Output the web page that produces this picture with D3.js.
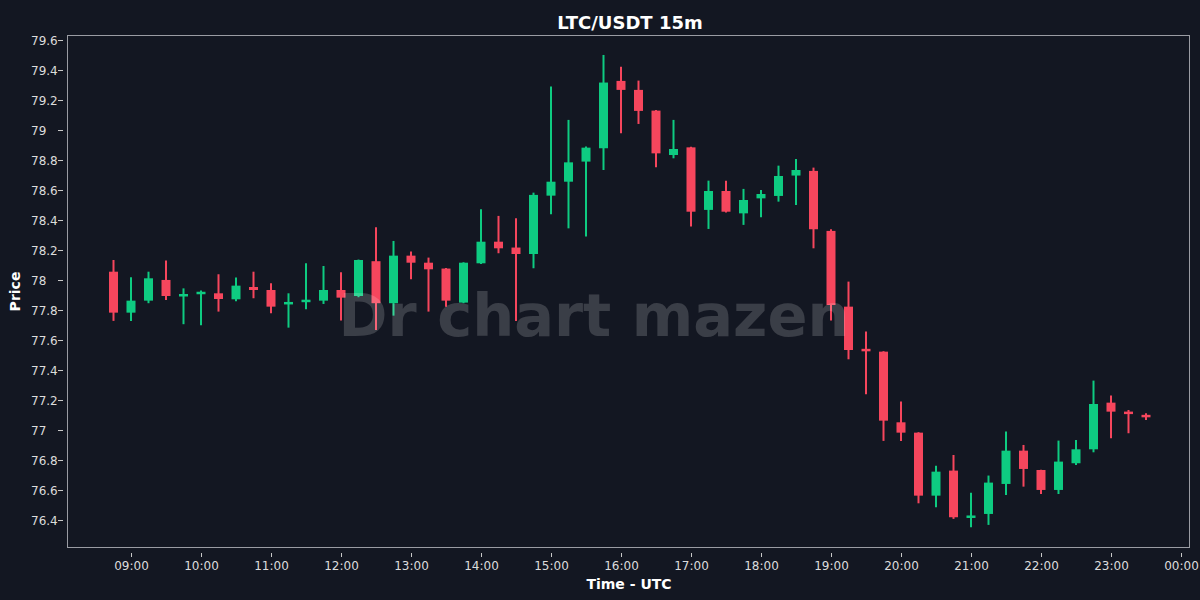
<!DOCTYPE html>
<html><head><meta charset="utf-8">
<script src="https://cdn.jsdelivr.net/npm/d3@7"></script>
<style>html,body{margin:0;padding:0;background:#131722}svg{display:block}</style>
</head><body><svg id="c" width="1200" height="600"></svg>
<script>
const times=["08:45","09:00","09:15","09:30","09:45","10:00","10:15","10:30","10:45","11:00","11:15","11:30","11:45","12:00","12:15","12:30","12:45","13:00","13:15","13:30","13:45","14:00","14:15","14:30","14:45","15:00","15:15","15:30","15:45","16:00","16:15","16:30","16:45","17:00","17:15","17:30","17:45","18:00","18:15","18:30","18:45","19:00","19:15","19:30","19:45","20:00","20:15","20:30","20:45","21:00","21:15","21:30","21:45","22:00","22:15","22:30","22:45","23:00","23:15","23:30"];
const open=[78.055,77.782,77.862,78.000,77.896,77.911,77.911,77.871,77.953,77.933,77.842,77.858,77.862,77.933,77.893,78.125,77.845,78.162,78.115,78.076,77.849,78.111,78.255,78.216,78.173,78.562,78.655,78.789,78.878,79.327,79.267,79.129,78.833,78.884,78.467,78.593,78.444,78.544,78.560,78.696,78.727,78.327,77.822,77.535,77.522,77.051,76.982,76.562,76.729,76.418,76.440,76.640,76.862,76.733,76.600,76.778,76.871,77.182,77.120,77.100];
const high=[78.133,78.018,78.055,78.129,77.944,77.929,78.038,78.016,78.055,77.978,77.911,78.111,78.093,78.051,78.136,78.351,78.260,78.189,78.149,78.080,78.118,78.471,78.427,78.411,78.582,79.289,79.067,78.889,79.500,79.422,79.329,79.133,79.067,78.888,78.662,78.662,78.607,78.600,78.762,78.807,78.749,78.338,77.989,77.656,77.525,77.189,76.985,76.762,76.833,76.582,76.696,76.989,76.900,76.735,76.929,76.933,77.329,77.229,77.133,77.111];
const low=[77.727,77.727,77.845,77.867,77.705,77.698,77.789,77.858,77.878,77.778,77.682,77.804,77.840,77.729,77.885,77.667,77.762,78.004,77.789,77.822,77.845,78.107,78.178,77.727,78.078,78.438,78.344,78.289,78.733,78.978,79.040,78.751,78.811,78.356,78.340,78.449,78.367,78.418,78.522,78.500,78.211,77.729,77.471,77.238,76.927,76.927,76.511,76.484,76.407,76.351,76.367,76.567,76.622,76.573,76.573,76.767,76.851,76.944,76.978,77.067];
const close=[77.782,77.862,78.011,77.893,77.900,77.915,77.873,77.962,77.933,77.822,77.848,77.862,77.933,77.882,78.133,77.845,78.162,78.115,78.071,77.862,78.115,78.255,78.211,78.173,78.567,78.655,78.784,78.882,79.316,79.267,79.127,78.844,78.873,78.455,78.593,78.455,78.533,78.573,78.693,78.733,78.338,77.833,77.533,77.530,77.062,76.982,76.562,76.722,76.418,76.425,76.649,76.862,76.740,76.600,76.789,76.871,77.173,77.122,77.108,77.085];
const xTickLabels=["09:00","10:00","11:00","12:00","13:00","14:00","15:00","16:00","17:00","18:00","19:00","20:00","21:00","22:00","23:00","00:00"];

const W=1200,H=600,L=67,R=1190,T=35,B=548;
const UP="#0ecb81",DOWN="#f6465d",BG="#131722";
const FONT="DejaVu Sans, Verdana, sans-serif";
const svg=d3.select("#c");
svg.append("rect").attr("width",W).attr("height",H).attr("fill",BG);

const parse=d3.utcParse("%Y-%m-%d %H:%M");
const toDate=t=>parse(((+t.slice(0,2))<8?"2024-01-02 ":"2024-01-01 ")+t);
const dates=times.map(toDate);
const tickDates=xTickLabels.map(toDate);

// time scale: 09:00 -> 131px, 00:00 -> 1181px
const x=d3.scaleUtc().domain([parse("2024-01-01 09:00"),parse("2024-01-02 00:00")]).range([131,1181]);
const y=d3.scaleLinear().domain([76.213,79.633]).range([B,T]);

// plot frame
svg.append("rect").attr("x",L+0.5).attr("y",T+0.5).attr("width",R-L-1).attr("height",B-T-1)
  .attr("fill","none").attr("stroke","#9a9ca3").attr("stroke-width",1);

// y axis
const yTicks=y.ticks(16);
const yg=svg.append("g");
yTicks.forEach(v=>{
  const yy=Math.round(y(v))+0.5;
  yg.append("line").attr("x1",58).attr("x2",63).attr("y1",yy).attr("y2",yy).attr("stroke","#c8c8c8").attr("stroke-width",1);
  yg.append("text").attr("x",31).attr("y",yy+4).attr("fill","#dcdcdc").attr("font-family",FONT).attr("font-size",12)
    .attr("text-anchor","start").text(d3.format("~f")(+v.toFixed(1)));
});

// x axis
const xAxis=d3.axisBottom(x).tickValues(tickDates).tickSize(4).tickPadding(4)
  .tickFormat((d,i)=>xTickLabels[i]);
const xg=svg.append("g").attr("transform",`translate(0,${B+5})`).call(xAxis);
xg.select(".domain").remove();
xg.selectAll(".tick line").attr("stroke","#c8c8c8");
xg.selectAll(".tick text").attr("fill","#dcdcdc").attr("font-family",FONT).attr("font-size",12);

// candles
const bw=9;
const cg=svg.append("g");
dates.forEach((d,i)=>{
  const o=open[i],c=close[i],h=high[i],l=low[i];
  const col=c>=o?UP:DOWN;
  const cx=x(d);
  cg.append("line").attr("x1",cx).attr("x2",cx).attr("y1",y(h)).attr("y2",y(l)).attr("stroke",col).attr("stroke-width",2);
  const top=y(Math.max(o,c)),bot=y(Math.min(o,c));
  const hh=Math.max(2.5,bot-top);
  const mid=(top+bot)/2;
  cg.append("rect").attr("x",cx-bw/2).attr("y",hh>bot-top?mid-hh/2:top).attr("width",bw).attr("height",hh).attr("fill",col);
});

// watermark
svg.append("text").attr("x",594).attr("y",336).attr("text-anchor","middle")
  .attr("font-family",FONT).attr("font-weight","bold").attr("font-size",59)
  .attr("fill","rgba(255,255,255,0.17)").text("Dr chart mazen");

// titles
svg.append("text").attr("x",630).attr("y",29).attr("text-anchor","middle").attr("fill","#ffffff")
  .attr("font-family",FONT).attr("font-weight","bold").attr("font-size",18).text("LTC/USDT 15m");
svg.append("text").attr("x",629).attr("y",589).attr("text-anchor","middle").attr("fill","#ffffff")
  .attr("font-family",FONT).attr("font-weight","bold").attr("font-size",14).text("Time - UTC");
svg.append("text").attr("transform",`translate(20,${(T+B)/2}) rotate(-90)`).attr("text-anchor","middle").attr("fill","#ffffff")
  .attr("font-family",FONT).attr("font-weight","bold").attr("font-size",14).text("Price");
</script></body></html>
